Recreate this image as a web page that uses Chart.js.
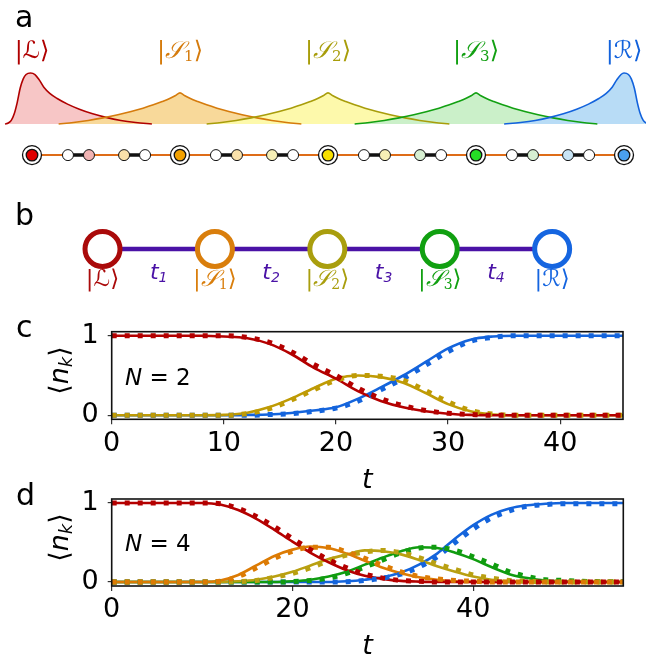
<!DOCTYPE html>
<html>
<head>
<meta charset="utf-8">
<script src="https://cdn.jsdelivr.net/npm/chart.js"></script>
<style>
  body { margin: 0; background: #fff; }
  #fig { position: relative; width: 646px; height: 660px; overflow: hidden; }
  #fig canvas { position: absolute; left: 0; }
</style>
</head>
<body>
<div id="fig">
  <canvas id="chartA" width="646" height="180" style="top:0"></canvas>
  <canvas id="chartB" width="646" height="110" style="top:190px"></canvas>
  <canvas id="chartC" width="646" height="194" style="top:300px"></canvas>
  <canvas id="chartD" width="646" height="190" style="top:470px"></canvas>
</div>
<script>
// ---------- states (shared by panels a and b) ----------
const stateNames = ['ℒ', '𝒮', '𝒮', '𝒮', 'ℛ'];
const stateSubs = ['', '1', '2', '3', ''];
const stateColors = ['#b00000', '#d57b0c', '#a89d0a', '#12a012', '#1262dc'];
const stateFills = ['#f7c6c6', '#f8d99a', '#fdf9ab', '#cbf0c9', '#b8dcf6'];
const stateSites = [0, 1, 2, 3, 4];

// ---------- panel a: densities along the chain (x in units of one cell) ----------
const leftPos = [-0.182, -0.16, -0.14, -0.12, -0.1, -0.08, -0.06, -0.04, -0.01, 0.02, 0.05, 0.08, 0.12, 0.17, 0.24, 0.32, 0.41, 0.5, 0.6, 0.7, 0.81];
const leftDen = [0, 0.02, 0.07, 0.2, 0.42, 0.7, 0.88, 0.97, 1, 0.97, 0.86, 0.72, 0.6, 0.5, 0.39, 0.29, 0.2, 0.13, 0.07, 0.03, 0];
const bulkOffset = [-0.82, -0.72, -0.62, -0.52, -0.42, -0.33, -0.25, -0.18, -0.12, -0.07, -0.03, 0, 0.03, 0.07, 0.12, 0.18, 0.25, 0.33, 0.42, 0.52, 0.62, 0.72, 0.82];
const bulkDen = [0, 0.03, 0.07, 0.12, 0.18, 0.245, 0.31, 0.375, 0.44, 0.5, 0.56, 0.61, 0.56, 0.5, 0.44, 0.375, 0.31, 0.245, 0.18, 0.12, 0.07, 0.03, 0];
const rightPos = [3.19, 3.3, 3.4, 3.5, 3.59, 3.68, 3.76, 3.83, 3.88, 3.92, 3.95, 3.98, 4.0, 4.03, 4.05, 4.07, 4.09, 4.11, 4.13, 4.15, 4.17];
const rightDen = [0, 0.03, 0.07, 0.13, 0.2, 0.29, 0.39, 0.5, 0.6, 0.72, 0.86, 0.97, 1, 0.97, 0.88, 0.7, 0.42, 0.2, 0.07, 0.02, 0];

const chainPos = [0, 0.243, 0.385, 0.622, 0.764, 1, 1.243, 1.385, 1.622, 1.764, 2, 2.243, 2.385, 2.622, 2.764, 3, 3.243, 3.385, 3.622, 3.764, 4];
const chainFill = ['#e00000', '#fff', '#f1b3b3', '#fae1aa', '#fff', '#f2a100', '#fff', '#fae1aa', '#f6efb6', '#fff',
                   '#f7e000', '#fff', '#f6efb6', '#d7f0d2', '#fff', '#25dd25', '#fff', '#d7f0d2', '#c8e4f5', '#fff', '#4aa0ee'];
const ringSites = [0, 5, 10, 15, 20];
const bondPairs = [[1, 2], [3, 4], [6, 7], [8, 9], [11, 12], [13, 14], [16, 17], [18, 19]];

// ---------- panel b ----------
const ringColorsB = ['#aa0a0a', '#d97e0c', '#a99e0e', '#11a011', '#1565e0'];
const couplings = ['1', '2', '3', '4'];
const couplingColor = '#4a12a6';

// ---------- panel c (N = 2) ----------
const cTime = [0, 2, 4, 6, 8, 10, 12, 14, 16, 18, 20, 22, 24, 26, 28, 30, 32, 34, 36, 38, 40, 42, 44, 46];
const cLeft = [1, 1, 1, 1, 1, 0.99, 0.97, 0.9, 0.77, 0.6, 0.46, 0.3, 0.18, 0.1, 0.05, 0.02, 0.005, 0, 0, 0, 0, 0, 0, 0];
const cLeftNum = [1, 1, 1, 1, 1, 1, 0.98, 0.92, 0.8, 0.64, 0.5, 0.34, 0.21, 0.12, 0.06, 0.025, 0.01, 0, 0, 0, 0, 0, 0, 0];
const cBulk = [0, 0, 0, 0, 0, 0.005, 0.03, 0.1, 0.21, 0.34, 0.46, 0.5, 0.48, 0.41, 0.28, 0.14, 0.05, 0.01, 0, 0, 0, 0, 0, 0];
const cBulkNum = [0, 0, 0, 0, 0, 0, 0.02, 0.08, 0.19, 0.32, 0.44, 0.5, 0.49, 0.44, 0.31, 0.17, 0.06, 0.015, 0, 0, 0, 0, 0, 0];
const cRight = [0, 0, 0, 0, 0, 0, 0.005, 0.01, 0.03, 0.06, 0.1, 0.21, 0.35, 0.5, 0.67, 0.84, 0.95, 0.99, 1, 1, 1, 1, 1, 1];
const cRightNum = [0, 0, 0, 0, 0, 0, 0, 0.01, 0.02, 0.05, 0.09, 0.18, 0.32, 0.46, 0.63, 0.8, 0.93, 0.98, 1, 1, 1, 1, 1, 1];

// ---------- panel d (N = 4) ----------
const dTime = [0, 2, 4, 6, 8, 10, 12, 14, 16, 18, 20, 22, 24, 26, 28, 30, 32, 34, 36, 38, 40, 42, 44, 46, 48, 50, 52, 54, 56, 58];
const dLeft = [1, 1, 1, 1, 1, 1, 0.98, 0.91, 0.8, 0.66, 0.51, 0.37, 0.25, 0.15, 0.08, 0.04, 0.015, 0.005, 0, 0, 0, 0, 0, 0, 0, 0, 0, 0, 0, 0];
const dLeftNum = [1, 1, 1, 1, 1, 1, 0.99, 0.93, 0.83, 0.7, 0.55, 0.41, 0.28, 0.18, 0.1, 0.05, 0.02, 0.01, 0, 0, 0, 0, 0, 0, 0, 0, 0, 0, 0, 0];
const dS1 = [0, 0, 0, 0, 0, 0, 0.02, 0.09, 0.21, 0.33, 0.41, 0.45, 0.43, 0.36, 0.27, 0.18, 0.11, 0.06, 0.03, 0.01, 0.005, 0, 0, 0, 0, 0, 0, 0, 0, 0];
const dS1Num = [0, 0, 0, 0, 0, 0, 0.01, 0.07, 0.18, 0.3, 0.39, 0.44, 0.44, 0.38, 0.3, 0.21, 0.13, 0.07, 0.04, 0.02, 0.01, 0, 0, 0, 0, 0, 0, 0, 0, 0];
const dS2 = [0, 0, 0, 0, 0, 0, 0, 0.01, 0.03, 0.07, 0.13, 0.21, 0.29, 0.35, 0.4, 0.39, 0.35, 0.28, 0.2, 0.13, 0.07, 0.03, 0.01, 0.005, 0, 0, 0, 0, 0, 0];
const dS2Num = [0, 0, 0, 0, 0, 0, 0, 0.005, 0.02, 0.06, 0.11, 0.18, 0.27, 0.34, 0.38, 0.4, 0.37, 0.31, 0.23, 0.16, 0.09, 0.05, 0.02, 0.01, 0, 0, 0, 0, 0, 0];
const dS3 = [0, 0, 0, 0, 0, 0, 0, 0, 0, 0, 0.01, 0.03, 0.07, 0.13, 0.22, 0.31, 0.39, 0.44, 0.43, 0.37, 0.29, 0.19, 0.1, 0.05, 0.02, 0.01, 0.005, 0, 0, 0];
const dS3Num = [0, 0, 0, 0, 0, 0, 0, 0, 0, 0, 0.005, 0.02, 0.05, 0.11, 0.19, 0.28, 0.37, 0.43, 0.44, 0.4, 0.32, 0.23, 0.13, 0.07, 0.03, 0.02, 0.01, 0.005, 0.005, 0.005];
const dRight = [0, 0, 0, 0, 0, 0, 0, 0, 0, 0, 0, 0, 0, 0.01, 0.03, 0.06, 0.12, 0.22, 0.36, 0.55, 0.72, 0.85, 0.93, 0.97, 0.99, 1, 1, 1, 1, 1];
const dRightNum = [0, 0, 0, 0, 0, 0, 0, 0, 0, 0, 0, 0, 0, 0.005, 0.02, 0.05, 0.1, 0.19, 0.32, 0.5, 0.67, 0.81, 0.9, 0.96, 0.98, 0.99, 0.99, 0.99, 0.99, 0.99];

const lineRed = '#b40000', lineGold = '#bf9b05', lineOrange = '#dc7b04', lineOlive = '#b9a011', lineGreen = '#109c10', lineBlue = '#1464dc';

// ---------- helpers ----------
function pts(xs, ys) { return xs.map((x, i) => ({ x: x, y: ys[i] })); }

function richText(ctx, parts, x, y, align) {
  let w = 0;
  parts.forEach(p => { ctx.font = p.f; w += ctx.measureText(p.t).width; });
  let cx = align === 'center' ? x - w / 2 : x;
  ctx.textAlign = 'left';
  parts.forEach(p => {
    ctx.font = p.f;
    ctx.fillStyle = p.c || '#000';
    ctx.fillText(p.t, cx, y + (p.dy || 0));
    cx += ctx.measureText(p.t).width;
  });
}

function ketParts(i, size, color) {
  const fam = "'DejaVu Serif', 'DejaVu Sans', serif";
  const parts = [{ t: '|', f: size + 'px ' + fam, c: color }, { t: stateNames[i], f: 'italic ' + size + 'px ' + fam, c: color }];
  if (stateSubs[i]) parts.push({ t: stateSubs[i], f: Math.round(size * 0.62) + 'px ' + fam, c: color, dy: size * 0.22 });
  parts.push({ t: '⟩', f: size + 'px ' + fam, c: color });
  return parts;
}

const quiet = { legend: { display: false }, tooltip: { enabled: false } };

// ---------- panel a ----------
const peakSets = [];
function peakSet(pos, den, i) {
  return { data: pts(pos, den), borderColor: stateColors[i], backgroundColor: stateFills[i], fill: 'origin',
           borderWidth: 1.6, pointRadius: 0, cubicInterpolationMode: 'monotone', order: 50 - i };
}
peakSets.push(peakSet(leftPos, leftDen, 0));
for (let k = 1; k <= 3; k++) peakSets.push(peakSet(bulkOffset.map(o => o + stateSites[k]), bulkDen, k));
peakSets.push(peakSet(rightPos, rightDen, 4));

const chainLevel = -0.61;
const smallIdx = chainPos.map((p, i) => i).filter(i => !ringSites.includes(i));
const bondPts = [];
bondPairs.forEach(([a, b]) => {
  bondPts.push({ x: chainPos[a], y: chainLevel }, { x: chainPos[b], y: chainLevel }, { x: chainPos[b] + 0.01, y: null });
});

const panelA = {
  id: 'panelA',
  afterDraw(chart) {
    const ctx = chart.ctx, xs = chart.scales.x, ys = chart.scales.y;
    ctx.save();
    ctx.fillStyle = '#000';
    ctx.textBaseline = 'alphabetic';
    ctx.font = "30px 'DejaVu Sans'";
    ctx.fillText('a', 15, 27);
    ctx.textBaseline = 'middle';
    stateSites.forEach((s, i) => richText(ctx, ketParts(i, 24, stateColors[i]), xs.getPixelForValue(s), ys.getPixelForValue(1.41), 'center'));
    ctx.restore();
  }
};

new Chart(document.getElementById('chartA'), {
  type: 'line',
  data: {
    datasets: peakSets.concat([
      { data: [{ x: 0, y: chainLevel }, { x: 4, y: chainLevel }], borderColor: '#de6c18', borderWidth: 2, pointRadius: 0, order: 10 },
      { data: bondPts, borderColor: '#111', borderWidth: 3.5, pointRadius: 0, spanGaps: false, order: 9 },
      { data: smallIdx.map(i => ({ x: chainPos[i], y: chainLevel })), showLine: false, pointRadius: 5.5, pointBorderWidth: 1,
        pointBorderColor: '#111', pointBackgroundColor: smallIdx.map(i => chainFill[i]), order: 8 },
      { data: ringSites.map(i => ({ x: chainPos[i], y: chainLevel })), showLine: false, pointRadius: 9.5, pointBorderWidth: 1.3,
        pointBorderColor: '#111', pointBackgroundColor: '#fff', order: 7 },
      { data: ringSites.map(i => ({ x: chainPos[i], y: chainLevel })), showLine: false, pointRadius: 5.8, pointBorderWidth: 1.3,
        pointBorderColor: '#111', pointBackgroundColor: ringSites.map(i => chainFill[i]), order: 6 }
    ])
  },
  options: {
    responsive: false, animation: false, events: [],
    layout: { padding: 0, autoPadding: false },
    plugins: Object.assign({ filler: { drawTime: 'beforeDatasetsDraw' } }, quiet),
    scales: {
      x: { type: 'linear', display: false, min: -0.2162, max: 4.1486 },
      y: { display: false, min: -1.098, max: 2.431 }
    }
  },
  plugins: [panelA]
});

// ---------- panel b ----------
const panelB = {
  id: 'panelB',
  afterDraw(chart) {
    const ctx = chart.ctx, xs = chart.scales.x, ys = chart.scales.y;
    ctx.save();
    ctx.fillStyle = '#000';
    ctx.textBaseline = 'alphabetic';
    ctx.font = "30px 'DejaVu Sans'";
    ctx.fillText('b', 15, 35);
    ctx.textBaseline = 'middle';
    stateSites.forEach((s, i) => richText(ctx, ketParts(i, 23, ringColorsB[i]), xs.getPixelForValue(s), ys.getPixelForValue(-3.1), 'center'));
    couplings.forEach((c, i) => richText(ctx, [
      { t: 't', f: "italic 22px 'DejaVu Sans'", c: couplingColor },
      { t: c, f: "italic 14px 'DejaVu Sans'", c: couplingColor, dy: 5 }
    ], xs.getPixelForValue(i + 0.5), ys.getPixelForValue(-2.4), 'center'));
    ctx.restore();
  }
};

new Chart(document.getElementById('chartB'), {
  type: 'line',
  data: {
    datasets: [
      { data: stateSites.map(s => ({ x: s, y: 0 })), showLine: false, pointRadius: 17.5, pointBorderWidth: 5,
        pointBorderColor: ringColorsB, pointBackgroundColor: '#fff', order: 1 },
      { data: [{ x: 0, y: 0 }, { x: 4, y: 0 }], borderColor: couplingColor, borderWidth: 4.5, pointRadius: 0, order: 3 }
    ]
  },
  options: {
    responsive: false, animation: false, events: [],
    layout: { padding: 0, autoPadding: false },
    plugins: quiet,
    scales: {
      x: { type: 'linear', display: false, min: -0.912, max: 4.835 },
      y: { display: false, min: -5.1, max: 5.9 }
    }
  },
  plugins: [panelB]
});

// ---------- panels c and d ----------
function frameAndLabels(cfg) {
  return {
    id: 'frame' + cfg.letter,
    afterDraw(chart) {
      const ctx = chart.ctx, a = chart.chartArea;
      ctx.save();
      ctx.strokeStyle = '#111';
      ctx.lineWidth = 1.6;
      ctx.strokeRect(a.left, a.top, a.right - a.left, a.bottom - a.top);
      ctx.textBaseline = 'alphabetic';
      ctx.fillStyle = '#000';
      ctx.font = "30px 'DejaVu Sans'";
      ctx.textAlign = 'left';
      ctx.fillText(cfg.letter, 16, cfg.letterY);
      richText(ctx, [{ t: 'N', f: "italic 23px 'DejaVu Sans'" }, { t: ' = ' + cfg.n, f: "23px 'DejaVu Sans'" }], 125, cfg.nY, 'left');
      ctx.translate(61, (a.top + a.bottom) / 2 - 5);
      ctx.rotate(-Math.PI / 2);
      ctx.textBaseline = 'middle';
      richText(ctx, [
        { t: '⟨', f: "27px 'DejaVu Sans'" },
        { t: 'n', f: "italic 27px 'DejaVu Sans'" },
        { t: 'k', f: "italic 18px 'DejaVu Sans'", dy: 6 },
        { t: '⟩', f: "27px 'DejaVu Sans'" }
      ], 0, 0, 'center');
      ctx.restore();
    }
  };
}

function timeChart(id, cfg) {
  const datasets = [];
  cfg.series.forEach(s => {
    datasets.push({ data: pts(cfg.time, s.exact), borderColor: s.color, borderWidth: 2.6, pointRadius: 0,
                    cubicInterpolationMode: 'monotone', fill: false, order: 2 });
    datasets.push({ data: pts(cfg.time, s.numeric), borderColor: s.color, borderWidth: 5, borderDash: [5, 8],
                    borderCapStyle: 'butt', pointRadius: 0, cubicInterpolationMode: 'monotone', fill: false, order: 1 });
  });
  const tickFont = { family: 'DejaVu Sans', size: 27 };
  return new Chart(document.getElementById(id), {
    type: 'line',
    data: { datasets },
    options: {
      responsive: false, animation: false, events: [],
      layout: { padding: { top: cfg.top, right: cfg.right, left: 0, bottom: 0 }, autoPadding: false },
      plugins: quiet,
      scales: {
        x: {
          type: 'linear', min: 0, max: cfg.xMax,
          border: { display: false },
          grid: { drawOnChartArea: false, tickLength: 5, color: '#333', lineWidth: 1.2 },
          ticks: { stepSize: cfg.xStep, includeBounds: false, autoSkip: false, maxRotation: 0, padding: 3, color: '#000', font: tickFont },
          title: { display: true, text: 't', color: '#000', padding: 0, font: { family: 'DejaVu Sans', size: 27, style: 'italic', lineHeight: 1 } },
          afterFit: s => { s.height = cfg.axisH; }
        },
        y: {
          min: -0.05, max: 1.05,
          border: { display: false },
          grid: { drawOnChartArea: false, tickLength: 4, color: '#333', lineWidth: 1.2 },
          ticks: { stepSize: 1, includeBounds: false, padding: 9, color: '#000', font: tickFont },
          afterFit: s => { s.width = 111.7; }
        }
      }
    },
    plugins: [frameAndLabels(cfg)]
  });
}

timeChart('chartC', {
  time: cTime, xMax: 45.6, xStep: 10, top: 31.7, right: 23, axisH: 74.7,
  letter: 'c', letterY: 37, n: 2, nY: 85,
  series: [
    { exact: cLeft, numeric: cLeftNum, color: lineRed },
    { exact: cBulk, numeric: cBulkNum, color: lineGold },
    { exact: cRight, numeric: cRightNum, color: lineBlue }
  ]
});

timeChart('chartD', {
  time: dTime, xMax: 56.6, xStep: 20, top: 29, right: 22.7, axisH: 74,
  letter: 'd', letterY: 35, n: 4, nY: 81,
  series: [
    { exact: dLeft, numeric: dLeftNum, color: lineRed },
    { exact: dS1, numeric: dS1Num, color: lineOrange },
    { exact: dS2, numeric: dS2Num, color: lineOlive },
    { exact: dS3, numeric: dS3Num, color: lineGreen },
    { exact: dRight, numeric: dRightNum, color: lineBlue }
  ]
});
</script>
</body>
</html>
